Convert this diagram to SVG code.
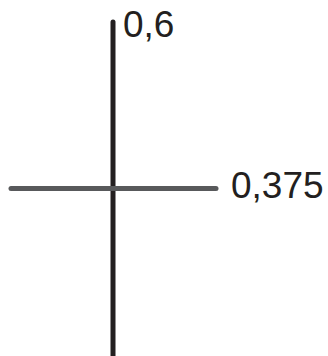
<svg xmlns="http://www.w3.org/2000/svg" width="328" height="356" viewBox="0 0 328 356">
<style>
.lbl{font-family:"Liberation Sans",Arial,sans-serif;font-size:37px;fill:#231f20}
.ax{stroke-linecap:round;stroke-width:5;fill:none}
</style>
<rect width="328" height="356" fill="#fff"/>
<g id="connectors">
<line class="ax" x1="113" y1="22" x2="113" y2="360" stroke="#231f20"/>
<line class="ax" x1="11" y1="188.5" x2="216" y2="188.5" stroke="#58595b"/>
</g>
<g id="label-top"><text class="lbl" x="123" y="37">0,6</text></g>
<g id="label-right"><text class="lbl" x="231" y="198">0,375</text></g>
</svg>
